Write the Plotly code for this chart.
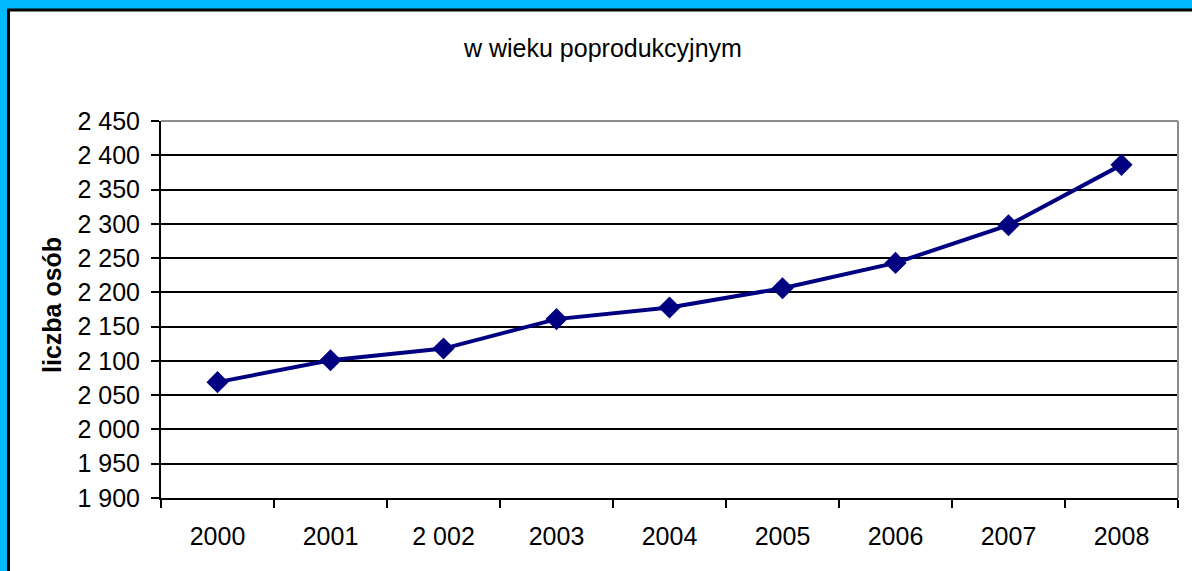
import plotly.graph_objects as go

years = ["2000", "2001", "2 002", "2003", "2004", "2005", "2006", "2007", "2008"]
values = [2069, 2101, 2118, 2161, 2178, 2206, 2243, 2298, 2386]
title_text = "w wieku poprodukcyjnym"
y_title = "liczba osób"

W, H = 1192, 571
L, R, T, B = 161, 14, 121, 73
pw = W - L - R
ph = H - T - B

def px(x):
    return (x - L) / pw

def py(y):
    return (H - B - y) / ph

FONT = "Liberation Sans, Arial, sans-serif"

fig = go.Figure()
fig.add_trace(go.Scatter(
    x=years, y=values, mode="lines+markers",
    line=dict(color="#000080", width=4),
    marker=dict(symbol="diamond", size=17, color="#000080"),
    cliponaxis=False,
))

fig.update_layout(
    width=W, height=H,
    margin=dict(l=L, r=R, t=T, b=B),
    paper_bgcolor="#00B9FF",
    plot_bgcolor="white",
    separators=", ",
    showlegend=False,
    font=dict(family=FONT, size=25, color="black"),
    xaxis=dict(
        type="category",
        showgrid=False,
        showline=True, linecolor="black", linewidth=2,
        ticks="outside", ticklen=8, tickwidth=2, tickcolor="black",
        tickson="boundaries",
        tickfont=dict(size=25),
        ticklabelstandoff=15,
        range=[-0.5, 8.5],
    ),
    yaxis=dict(
        range=[1900, 2450], dtick=50, tick0=1900,
        tickformat=",d",
        showgrid=True, gridcolor="black", gridwidth=2,
        showline=True, linecolor="black", linewidth=2,
        ticks="outside", ticklen=8, tickwidth=2, tickcolor="black",
        zeroline=False,
        tickfont=dict(size=25),
        ticklabelstandoff=6,
    ),
    shapes=[
        dict(type="rect", xref="paper", yref="paper", layer="below",
             x0=px(8.5), x1=px(1210), y0=py(600), y1=py(10),
             line=dict(color="black", width=3), fillcolor="white"),
        dict(type="line", xref="paper", yref="paper", layer="above",
             x0=0, x1=1, y0=1, y1=1, line=dict(color="#8C8C8C", width=2)),
        dict(type="line", xref="paper", yref="paper", layer="above",
             x0=1, x1=1, y0=0, y1=1, line=dict(color="#8C8C8C", width=2)),
    ],
    annotations=[
        dict(text=title_text, xref="paper", yref="paper",
             x=px(602), y=py(48), xanchor="center", yanchor="middle",
             showarrow=False, font=dict(size=25)),
        dict(text="<b>" + y_title + "</b>", xref="paper", yref="paper",
             x=px(52), y=py(305), xanchor="center", yanchor="middle",
             textangle=-90, showarrow=False, font=dict(size=25)),
    ],
)

fig.write_html(
    "out.html",
    config={"displayModeBar": False},
    post_script="document.body.style.margin='0';document.body.style.overflow='hidden';",
)
